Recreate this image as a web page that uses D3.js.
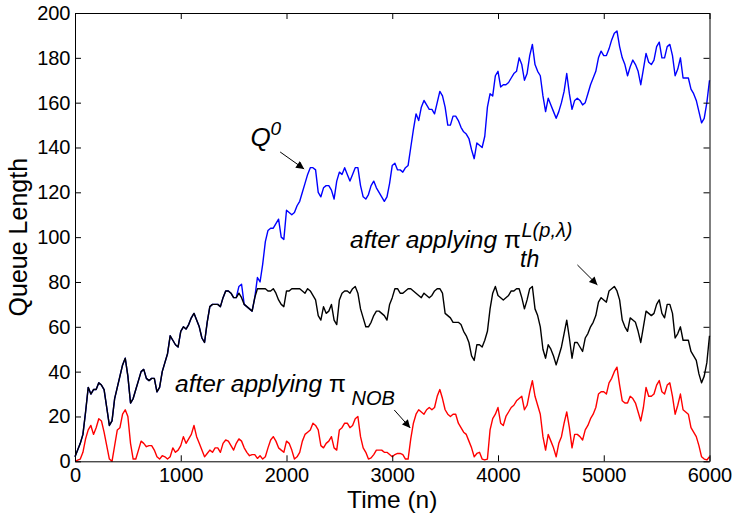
<script src="https://d3js.org/d3.v7.min.js"></script>
<style>
body { margin: 0; background: #fff; }
svg { display: block; font-family: "Liberation Sans", Arial, Helvetica, sans-serif; }
.tick text { font-size: 20px; fill: #000; }
.note { font-style: italic; fill: #000; }
.note .sym { font-style: normal; }
</style>

<svg width="734" height="516"></svg>

<script>
// time index, one sample every 25 steps
const times = d3.range(0, 6001, 25);

// queue length without control (Q^0)
const queueNone = [
  2, 5, 8, 12, 22, 33, 30, 32, 32, 35, 34, 32, 24, 16, 18, 28, 33, 38, 43, 46,
  38, 26, 28, 32, 36, 40, 41, 37, 36, 37, 37, 31, 33, 40, 44, 48, 56, 54, 52, 51,
  58, 60, 59, 61, 64, 66, 63, 60, 55, 53, 62, 69, 70, 70, 70, 69, 73, 76, 76, 75,
  73, 73, 78, 79, 70, 69, 68, 67, 73, 82, 80, 88, 98, 103, 104, 104, 106, 108, 100, 99,
  112, 111, 110, 111, 114, 116, 120, 124, 128, 131, 131, 130, 120, 118, 122, 123, 123, 121, 117, 125,
  129, 128, 131, 128, 125, 128, 131, 131, 123, 118, 117, 119, 123, 125, 122, 120, 118, 116, 118, 124,
  132, 133, 130, 130, 129, 131, 132, 140, 148, 155, 152, 158, 161, 159, 157, 157, 155, 160, 165, 163,
  158, 150, 150, 154, 154, 152, 149, 147, 146, 144, 139, 135, 142, 141, 140, 145, 158, 164, 163, 172,
  174, 167, 168, 168, 169, 171, 173, 174, 180, 177, 170, 173, 181, 186, 177, 174, 172, 163, 156, 162,
  159, 156, 153, 156, 160, 165, 173, 164, 157, 161, 162, 161, 159, 160, 164, 168, 171, 174, 180, 183,
  181, 181, 184, 188, 191, 192, 185, 180, 177, 172, 176, 179, 177, 174, 168, 175, 182, 178, 177, 179,
  185, 187, 180, 180, 185, 186, 181, 172, 175, 180, 171, 171, 171, 166, 164, 161, 156, 151, 153, 160,
  170
];

// queue length after applying the threshold policy
const queueThreshold = [
  2, 5, 8, 12, 22, 33, 30, 32, 32, 35, 34, 32, 24, 16, 18, 28, 33, 38, 43, 46,
  38, 26, 28, 32, 36, 40, 41, 37, 36, 37, 37, 31, 33, 40, 44, 48, 56, 54, 52, 51,
  58, 60, 59, 61, 64, 66, 63, 60, 55, 53, 62, 69, 70, 70, 70, 69, 73, 76, 76, 75,
  73, 73, 75, 73, 70, 69, 68, 67, 73, 77, 77, 77, 77, 76, 76, 77, 75, 72, 70, 69,
  76, 76, 77, 77, 77, 77, 76, 75, 77, 76, 74, 72, 65, 63, 69, 66, 67, 70, 63, 61,
  72, 75, 76, 76, 75, 77, 78, 75, 68, 64, 60, 60, 62, 65, 67, 67, 66, 65, 63, 70,
  73, 77, 77, 75, 75, 76, 77, 77, 76, 75, 74, 73, 75, 74, 73, 74, 76, 77, 77, 75,
  66, 65, 64, 62, 62, 62, 61, 58, 56, 53, 47, 45, 52, 52, 51, 54, 58, 68, 75, 78,
  74, 73, 72, 73, 74, 76, 76, 77, 77, 73, 68, 72, 77, 78, 68, 65, 60, 50, 46, 52,
  50, 47, 43, 47, 51, 57, 63, 55, 46, 53, 53, 51, 49, 55, 57, 60, 62, 65, 71, 73,
  72, 71, 76, 77, 78, 76, 72, 63, 60, 58, 64, 63, 62, 58, 53, 60, 67, 66, 65, 66,
  70, 72, 66, 64, 70, 70, 66, 55, 57, 60, 54, 54, 54, 49, 47, 45, 39, 35, 38, 44,
  56
];

// queue length after applying pi_NOB
const queueNob = [
  0, 0.5, 1, 4, 10, 14, 16, 12, 15, 19, 18, 13, 7, 1, 0, 7, 14, 15, 21, 23,
  20, 8, 1, 1, 5, 9, 8, 6.5, 7, 7, 5, 2, 1, 2.5, 2, 1, 2, 6, 4, 5,
  7, 11, 8, 10, 12, 16, 11, 8, 5, 2, 3.5, 5, 4, 6, 6, 4, 8, 9.5, 9, 7,
  5, 8, 10, 9, 6, 4, 2.5, 3, 3, 1.3, 2.5, 1, 2, 6, 9.5, 11, 9, 6, 5, 4,
  9, 8, 5, 1, 2, 4, 9, 12, 13, 14, 17, 16, 14, 7, 6, 8, 9, 11, 6, 5,
  14, 15, 17, 17, 15, 16, 19, 20, 11, 6, 4, 1, 1.5, 3, 5, 5, 5, 4, 4, 3,
  2, 3, 3.5, 3.5, 3, 1, 1, 10, 17, 21, 23, 22, 21, 23, 24, 23, 24, 29, 32, 28,
  23, 21, 20, 21, 21, 17, 15, 13, 12, 9, 6, 2, 3.5, 4, 1, 0.6, 1, 14, 19, 21,
  24, 17, 16, 20, 22, 24, 25, 27, 28, 29, 23, 25, 31, 36, 29, 25, 21, 11, 5, 12,
  9, 6, 2, 8, 11, 17, 22, 15, 6, 12, 12, 11, 9.5, 14, 16, 19, 21, 24, 30, 31,
  31, 30, 35, 37, 40, 42, 34, 27, 26, 26, 29, 28, 26, 22, 18, 24, 33, 29, 29, 30,
  34, 36, 31, 30, 34, 35, 29, 21, 25, 30, 23, 22, 21, 15, 13, 11, 7, 2, 1, 0.6,
  2
];

const xTicks = [0, 1000, 2000, 3000, 4000, 5000, 6000];
const yTicks = [0, 20, 40, 60, 80, 100, 120, 140, 160, 180, 200];

const margin = { top: 13, right: 24.5, bottom: 54.7, left: 75 };
const width = 734 - margin.left - margin.right;
const height = 516 - margin.top - margin.bottom;

const svg = d3.select('svg');
const g = svg.append('g').attr('transform', `translate(${margin.left},${margin.top})`);

const x = d3.scaleLinear().domain([0, 6000]).range([0, width]);
const y = d3.scaleLinear().domain([0, 200]).range([height, 0]);

// arrowhead
svg.append('defs').append('marker')
  .attr('id', 'head')
  .attr('viewBox', '0 0 10 10')
  .attr('refX', 10)
  .attr('refY', 5)
  .attr('markerUnits', 'userSpaceOnUse')
  .attr('markerWidth', 10)
  .attr('markerHeight', 8)
  .attr('orient', 'auto')
  .append('path')
  .attr('d', 'M0,0L10,5L0,10z')
  .attr('fill', '#000');

// series
const line = d3.line()
  .x((d, i) => x(times[i]))
  .y(d => y(d));

const plot = (values, colour) => {
  g.append('path')
    .datum(values)
    .attr('fill', 'none')
    .attr('stroke', colour)
    .attr('stroke-width', 1.4)
    .attr('stroke-linejoin', 'round')
    .attr('d', line);
};

plot(queueNone, '#0000ff');
plot(queueThreshold, '#000000');
plot(queueNob, '#ff0000');

// box axes, ticks pointing in
const styleAxis = sel => {
  sel.select('.domain').attr('stroke', '#000').attr('stroke-width', 1);
  sel.selectAll('.tick line').attr('stroke', '#000');
  sel.selectAll('.tick text').attr('font-family', null).attr('font-size', null);
};

g.append('g')
  .attr('transform', `translate(0,${height})`)
  .call(d3.axisBottom(x).tickValues(xTicks).tickFormat(d3.format('d'))
    .tickSize(-6).tickSizeOuter(0).tickPadding(6.5))
  .call(styleAxis);

g.append('g')
  .call(d3.axisLeft(y).tickValues(yTicks).tickFormat(d3.format('d'))
    .tickSize(-6).tickSizeOuter(0).tickPadding(4.5))
  .call(styleAxis);

g.append('g')
  .call(d3.axisTop(x).tickValues(xTicks).tickSize(-6).tickSizeOuter(0).tickFormat(''))
  .call(styleAxis);

g.append('g')
  .attr('transform', `translate(${width},0)`)
  .call(d3.axisRight(y).tickValues(yTicks).tickSize(-6).tickSizeOuter(0).tickFormat(''))
  .call(styleAxis);

// axis titles
svg.append('text')
  .attr('x', margin.left + width / 2)
  .attr('y', 508)
  .attr('text-anchor', 'middle')
  .attr('font-size', 24.5)
  .text('Time (n)');

svg.append('text')
  .attr('transform', `translate(27,${margin.top + height / 2}) rotate(-90)`)
  .attr('text-anchor', 'middle')
  .attr('font-size', 25)
  .text('Queue Length');

// annotations
const note = (px, py, size, txt) => svg.append('text')
  .attr('class', 'note')
  .attr('x', px)
  .attr('y', py)
  .attr('font-size', size)
  .text(txt);

note(250.5, 145.7, 26, 'Q');
note(270.5, 135, 19, '0');

note(350, 248.3, 24.5, 'after applying ')
  .append('tspan').attr('class', 'sym').text('\u03c0');
note(520, 267, 23, 'th');
note(521.5, 236.7, 20, 'L(p,\u03bb)');

note(175, 391.7, 24.5, 'after applying ')
  .append('tspan').attr('class', 'sym').text('\u03c0');
note(351.5, 405, 20, 'NOB');

const arrow = (t0, v0, t1, v1) => {
  g.append('line')
    .attr('x1', x(t0)).attr('y1', y(v0))
    .attr('x2', x(t1)).attr('y2', y(v1))
    .attr('stroke', '#000')
    .attr('stroke-width', 1)
    .attr('marker-end', 'url(#head)');
};

arrow(1940, 138, 2167, 130.4);
arrow(4751, 87.6, 4940, 78.7);
arrow(3019, 22.9, 3170, 14.9);
</script>
